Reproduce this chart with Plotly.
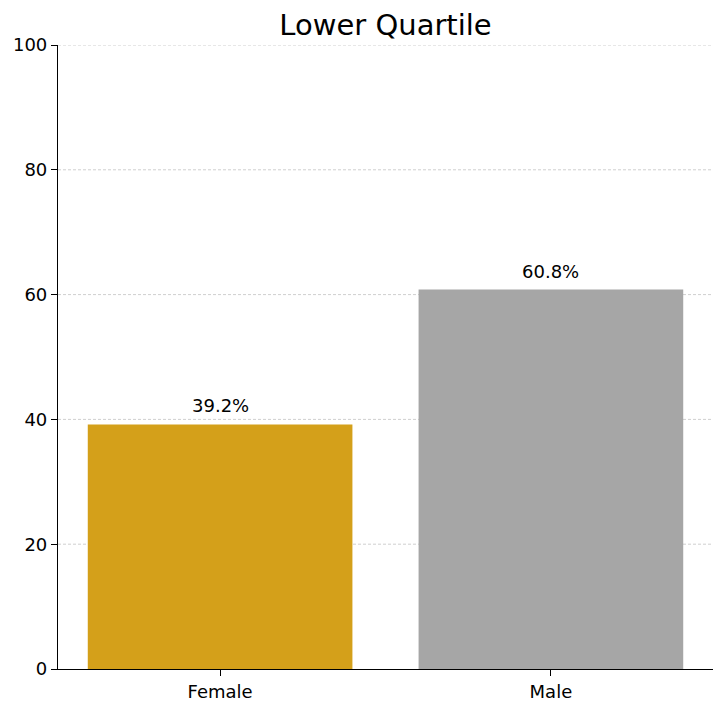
import plotly.graph_objects as go

categories = ["Female", "Male"]
shares = [39.2, 60.8]
colors = ["#D4A01A", "#A6A6A6"]
y_ticks = [0, 20, 40, 60, 80, 100]
grid_levels = [20, 40, 60, 80, 100]

fig = go.Figure()
fig.add_trace(go.Bar(
    x=categories,
    y=shares,
    marker=dict(color=colors, line=dict(width=0)),
    width=0.8,
    hoverinfo="skip",
))

# dashed horizontal grid, drawn beneath the bars
for lvl in grid_levels:
    fig.add_shape(
        type="line", xref="paper", x0=0, x1=1, yref="y", y0=lvl, y1=lvl,
        line=dict(color="#CFCFCF", width=1, dash="3px,2px"),
        layer="below",
    )

for cat, val in zip(categories, shares):
    fig.add_annotation(
        x=cat, y=val, text=f"{val:.1f}%",
        showarrow=False, yanchor="bottom", yshift=6,
        font=dict(family="DejaVu Sans", size=18, color="black"),
    )

fig.update_layout(
    width=723, height=702,
    margin=dict(l=58, r=10, t=45, b=33),
    paper_bgcolor="white", plot_bgcolor="white",
    showlegend=False,
    font=dict(family="DejaVu Sans", size=18, color="black"),
    title=dict(
        text="Lower Quartile",
        x=(58 + 713) / 2 / 723, xanchor="center",
        y=1 - 25 / 702, yanchor="middle",
        font=dict(family="DejaVu Sans", size=29, color="black"),
    ),
    xaxis=dict(
        range=[-0.49, 1.49],
        showline=True, linecolor="black", linewidth=1.2,
        ticks="outside", ticklen=6, tickcolor="black",
        showgrid=False, zeroline=False, automargin=False,
    ),
    yaxis=dict(
        range=[0, 100],
        tickvals=y_ticks,
        showline=True, linecolor="black", linewidth=1.2,
        ticks="outside", ticklen=6, tickcolor="black",
        showgrid=False, zeroline=False, automargin=False,
    ),
)

fig.write_html("out.html")
